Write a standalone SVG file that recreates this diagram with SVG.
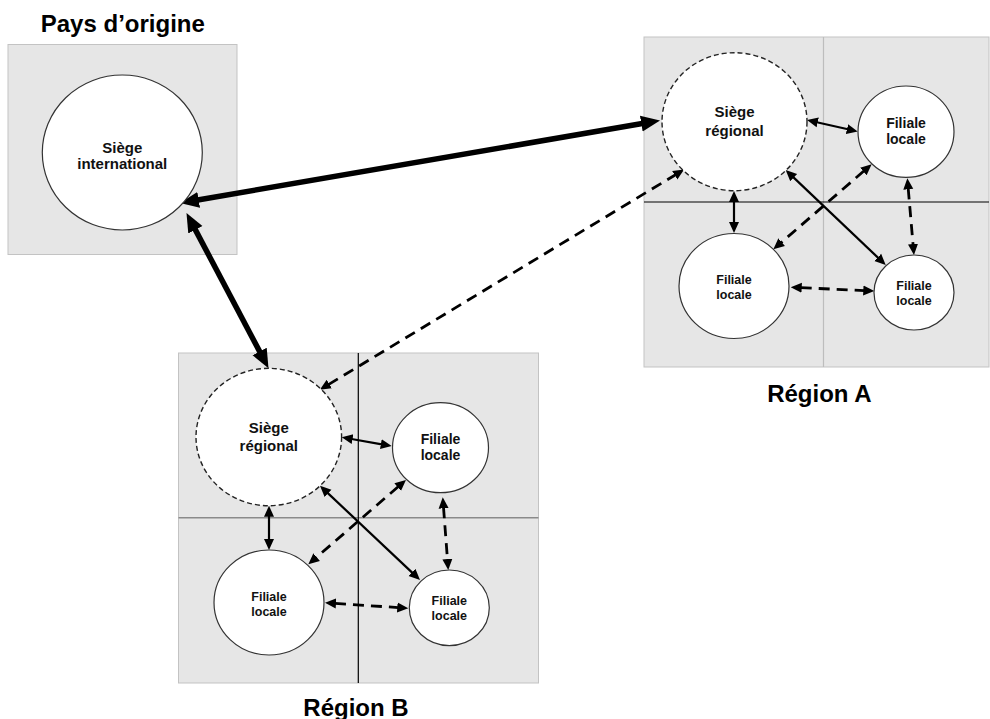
<svg xmlns="http://www.w3.org/2000/svg" width="990" height="719" viewBox="0 0 990 719">
<style>
  .box{fill:#e6e6e6;stroke:#c3c3c3;stroke-width:1}
  .node{fill:#ffffff;stroke:#333333;stroke-width:1.2}
  .hq{fill:#ffffff;stroke:#222222;stroke-width:1.4;stroke-dasharray:5 3}
  .lbl{font-family:"Liberation Sans",Arial,sans-serif;font-weight:bold;fill:#111111;text-anchor:middle}
  .title{font-family:"Liberation Sans",Arial,sans-serif;font-weight:bold;font-size:24px;fill:#000000;text-anchor:middle}
  .big{stroke:#000;stroke-width:5.5;fill:none;marker-start:url(#bigArrow);marker-end:url(#bigArrow)}
  .solid{stroke:#000;stroke-width:2.2;fill:none;marker-start:url(#smallArrow);marker-end:url(#smallArrow)}
  .dash{stroke:#000;stroke-width:2.8;fill:none;stroke-dasharray:11 7;marker-start:url(#smallArrow);marker-end:url(#smallArrow)}
</style>
<defs>
  <marker id="bigArrow" markerUnits="userSpaceOnUse" markerWidth="20" markerHeight="18" viewBox="0 -9 20 18" refX="1" refY="0" orient="auto-start-reverse">
    <path d="M0,-8 L19,0 L0,8 Z" fill="#000"/>
  </marker>
  <marker id="smallArrow" markerUnits="userSpaceOnUse" markerWidth="11" markerHeight="12" viewBox="0 -6 11 12" refX="1" refY="0" orient="auto-start-reverse">
    <path d="M0,-5 L11,0 L0,5 Z" fill="#000"/>
  </marker>
</defs>

<g id="backgrounds">
  <rect class="box" x="8" y="44.5" width="229" height="210"/>
  <rect class="box" x="644" y="37" width="345" height="330"/>
  <line x1="823.5" y1="37" x2="823.5" y2="367" stroke="#bdbdbd" stroke-width="1.2"/>
  <line x1="644" y1="202" x2="989" y2="202" stroke="#000" stroke-width="1.2"/>
  <rect class="box" x="178.5" y="353" width="360" height="330"/>
  <line x1="178.5" y1="517.7" x2="538.5" y2="517.7" stroke="#8a8a8a" stroke-width="1.6"/>
  <line x1="358.3" y1="353" x2="358.3" y2="683" stroke="#000" stroke-width="1.2"/>
</g>

<g id="titles">
  <text class="title" x="122.8" y="32.3">Pays d’origine</text>
  <text class="title" x="819.4" y="401.7">Région A</text>
  <text class="title" x="356" y="715.5">Région B</text>
</g>

<g id="connectors">
  <path class="big" d="M197.7,199.95 L642.3,123.55"/>
  <path class="big" d="M194.9,228.9 L260.1,352.4"/>
  <path class="dash" d="M328.4,384.6 L675.6,174.7"/>
  <path class="solid" d="M816.75,122.2 L847.95,129.3"/>
  <path class="solid" d="M792.95,176.9 L878.45,258.1"/>
  <path class="solid" d="M734,201 L734,223"/>
  <path class="dash" d="M864.1,170.8 L780.9,242.8"/>
  <path class="dash" d="M908.2,188.3 L913.1,245"/>
  <path class="dash" d="M800.7,287.7 L864.3,290.6"/>
  <path class="solid" d="M351.55,439 L381.85,444.3"/>
  <path class="solid" d="M327.3,492.6 L412.7,573.1"/>
  <path class="solid" d="M269,515.7 L269,540"/>
  <path class="dash" d="M398.4,486.5 L315.9,557.8"/>
  <path class="dash" d="M443.5,507.3 L447.5,560"/>
  <path class="dash" d="M335,603.4 L398.3,607.6"/>
</g>

<g id="siege-international">
  <ellipse class="node" cx="122.3" cy="152.5" rx="80" ry="77.5"/>
  <text class="lbl" font-size="15" x="122.3" y="152.5">Siège</text>
  <text class="lbl" font-size="15" x="122.3" y="168.5">international</text>
</g>

<g id="siege-regional-a">
  <ellipse class="hq" cx="734.5" cy="121.7" rx="72.5" ry="69"/>
  <text class="lbl" font-size="15" x="734.5" y="117.3">Siège</text>
  <text class="lbl" font-size="15" x="734.5" y="135.5">régional</text>
</g>
<g id="filiale-a-tr">
  <ellipse class="node" cx="906" cy="131.7" rx="48" ry="45.7"/>
  <text class="lbl" font-size="14" x="906" y="127.7">Filiale</text>
  <text class="lbl" font-size="14" x="906" y="144">locale</text>
</g>
<g id="filiale-a-bl">
  <ellipse class="node" cx="734" cy="286" rx="55" ry="52.5"/>
  <text class="lbl" font-size="12.5" x="734" y="284">Filiale</text>
  <text class="lbl" font-size="12.5" x="734" y="299.3">locale</text>
</g>
<g id="filiale-a-br">
  <ellipse class="node" cx="914" cy="292.5" rx="40" ry="37.5"/>
  <text class="lbl" font-size="12.5" x="914" y="290">Filiale</text>
  <text class="lbl" font-size="12.5" x="914" y="305">locale</text>
</g>

<g id="siege-regional-b">
  <ellipse class="hq" cx="268.8" cy="437" rx="72.8" ry="68.7"/>
  <text class="lbl" font-size="15" x="268.8" y="432.6">Siège</text>
  <text class="lbl" font-size="15" x="268.8" y="450.8">régional</text>
</g>
<g id="filiale-b-tr">
  <ellipse class="node" cx="440.5" cy="447.7" rx="48" ry="45"/>
  <text class="lbl" font-size="14" x="440.5" y="443.7">Filiale</text>
  <text class="lbl" font-size="14" x="440.5" y="460">locale</text>
</g>
<g id="filiale-b-bl">
  <ellipse class="node" cx="269" cy="602.5" rx="55" ry="52.5"/>
  <text class="lbl" font-size="12.5" x="269" y="600.5">Filiale</text>
  <text class="lbl" font-size="12.5" x="269" y="615.8">locale</text>
</g>
<g id="filiale-b-br">
  <ellipse class="node" cx="449.3" cy="607.8" rx="40" ry="37.8"/>
  <text class="lbl" font-size="12.5" x="449.3" y="605.3">Filiale</text>
  <text class="lbl" font-size="12.5" x="449.3" y="620.3">locale</text>
</g>
</svg>
